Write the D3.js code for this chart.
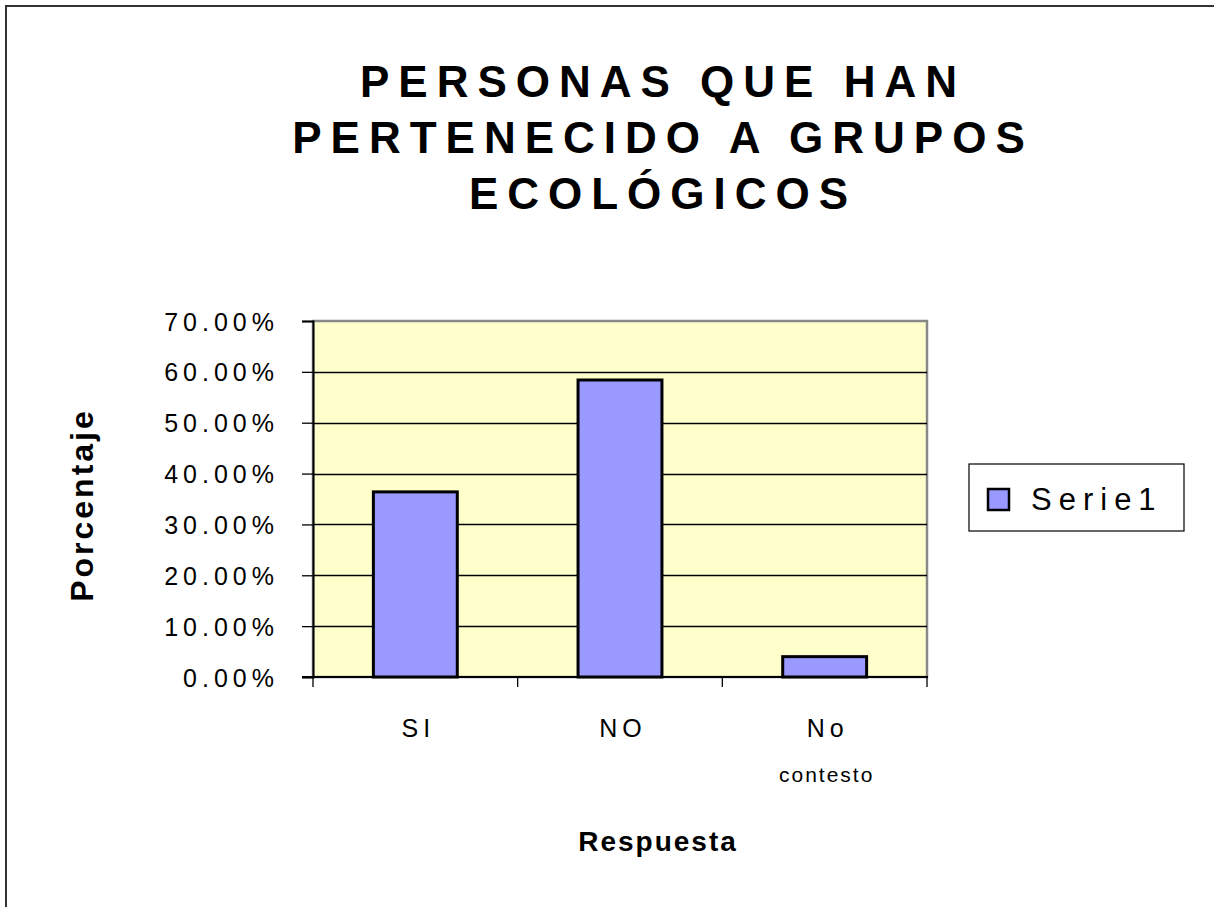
<!DOCTYPE html>
<html>
<head>
<meta charset="utf-8">
<script src="https://cdn.jsdelivr.net/npm/d3@7"></script>
<style>
  html, body { margin: 0; padding: 0; background: #fff; }
  svg { display: block; font-family: Arial, "Liberation Sans", sans-serif; }
</style>
</head>
<body>
<svg id="chart" width="1214" height="907"></svg>
<script>
const categories = [["SI"], ["NO"], ["No", "contesto"]];
const categoryKeys = ["SI", "NO", "No contesto"];
const values = [0.364, 0.584, 0.040];
const yTicks = [0, 0.1, 0.2, 0.3, 0.4, 0.5, 0.6, 0.7];
const titleLines = ["PERSONAS QUE HAN", "PERTENECIDO A GRUPOS", "ECOLÓGICOS"];
const seriesName = "Serie1";
const yTitle = "Porcentaje";
const xTitle = "Respuesta";

const svg = d3.select("#chart");

// outer chart border
svg.append("rect").attr("x", 6).attr("y", 6).attr("width", 1230).attr("height", 930)
  .attr("fill", "#fff").attr("stroke", "#333").attr("stroke-width", 2);

const plot = { left: 313, right: 927, top: 321, bottom: 677 };

const x = d3.scaleBand().domain(categoryKeys).range([plot.left, plot.right])
  .paddingInner(0.59).paddingOuter(0.295);
const y = d3.scaleLinear().domain([0, 0.7]).range([plot.bottom, plot.top]);

// plot area
svg.append("rect").attr("x", plot.left).attr("y", plot.top)
  .attr("width", plot.right - plot.left).attr("height", plot.bottom - plot.top)
  .attr("fill", "#FFFFCC").attr("stroke", "#888").attr("stroke-width", 2.5);

// gridlines
svg.append("g").selectAll("line").data(yTicks.filter(d => d > 0 && d < 0.7)).join("line")
  .attr("x1", plot.left).attr("x2", plot.right)
  .attr("y1", d => Math.round(y(d)) + 0.5).attr("y2", d => Math.round(y(d)) + 0.5)
  .attr("stroke", "#000").attr("stroke-width", 1.3);

// y axis
const yAxis = d3.axisLeft(y).tickValues(yTicks).tickSize(11).tickFormat(d3.format(".2%"));
const gy = svg.append("g").attr("transform", `translate(${plot.left},0)`).call(yAxis);
gy.select(".domain").attr("stroke", "#000").attr("stroke-width", 2);
gy.selectAll(".tick line").attr("stroke", "#000").attr("stroke-width", 1.3);
gy.selectAll(".tick text").attr("font-size", 25).attr("fill", "#000")
  .attr("font-family", "Arial, 'Liberation Sans', sans-serif")
  .attr("letter-spacing", "5px").attr("x", -34).attr("dy", "0.36em");

// bars
svg.append("g").selectAll("rect").data(values).join("rect")
  .attr("x", (d, i) => x(categoryKeys[i]))
  .attr("y", d => y(d))
  .attr("width", x.bandwidth())
  .attr("height", d => y(0) - y(d))
  .attr("fill", "#9999FF").attr("stroke", "#000").attr("stroke-width", 3);

// x axis
const xTickPos = d3.range(categoryKeys.length + 1).map(i => plot.left + i * x.step());
const gx = svg.append("g");
gx.append("line").attr("x1", plot.left - 11).attr("x2", plot.right + 1)
  .attr("y1", plot.bottom).attr("y2", plot.bottom).attr("stroke", "#000").attr("stroke-width", 2);
gx.selectAll("line.tk").data(xTickPos).join("line").attr("class", "tk")
  .attr("x1", d => d).attr("x2", d => d).attr("y1", plot.bottom).attr("y2", plot.bottom + 10)
  .attr("stroke", "#000").attr("stroke-width", 1.3);
categories.forEach((lines, i) => {
  const cx = x(categoryKeys[i]) + x.bandwidth() / 2;
  lines.forEach((t, j) => {
    svg.append("text").attr("x", cx + (j === 0 ? 3 : 2)).attr("y", j === 0 ? 737 : 782)
      .attr("text-anchor", "middle").attr("font-size", j === 0 ? 25 : 21)
      .attr("letter-spacing", j === 0 ? "5px" : "2px").text(t);
  });
});

// title
titleLines.forEach((t, i) => {
  svg.append("text").attr("x", 663).attr("y", 97 + i * 56)
    .attr("text-anchor", "middle").attr("font-size", 44).attr("font-weight", "bold")
    .attr("letter-spacing", "9px").text(t);
});

// axis titles
svg.append("text").attr("transform", "translate(93,505) rotate(-90)")
  .attr("text-anchor", "middle").attr("font-size", 32).attr("font-weight", "bold")
  .attr("letter-spacing", "3px").text(yTitle);
svg.append("text").attr("x", 658).attr("y", 851)
  .attr("text-anchor", "middle").attr("font-size", 28).attr("font-weight", "bold")
  .attr("letter-spacing", "2px").text(xTitle);

// legend
const lg = svg.append("g");
lg.append("rect").attr("x", 969).attr("y", 464).attr("width", 215).attr("height", 67)
  .attr("fill", "#fff").attr("stroke", "#000").attr("stroke-width", 1.2);
lg.append("rect").attr("x", 988).attr("y", 489).attr("width", 21).attr("height", 21)
  .attr("fill", "#9999FF").attr("stroke", "#000").attr("stroke-width", 2.5);
lg.append("text").attr("x", 1031).attr("y", 510).attr("font-size", 31)
  .attr("letter-spacing", "7px").text(seriesName);
</script>
</body>
</html>
